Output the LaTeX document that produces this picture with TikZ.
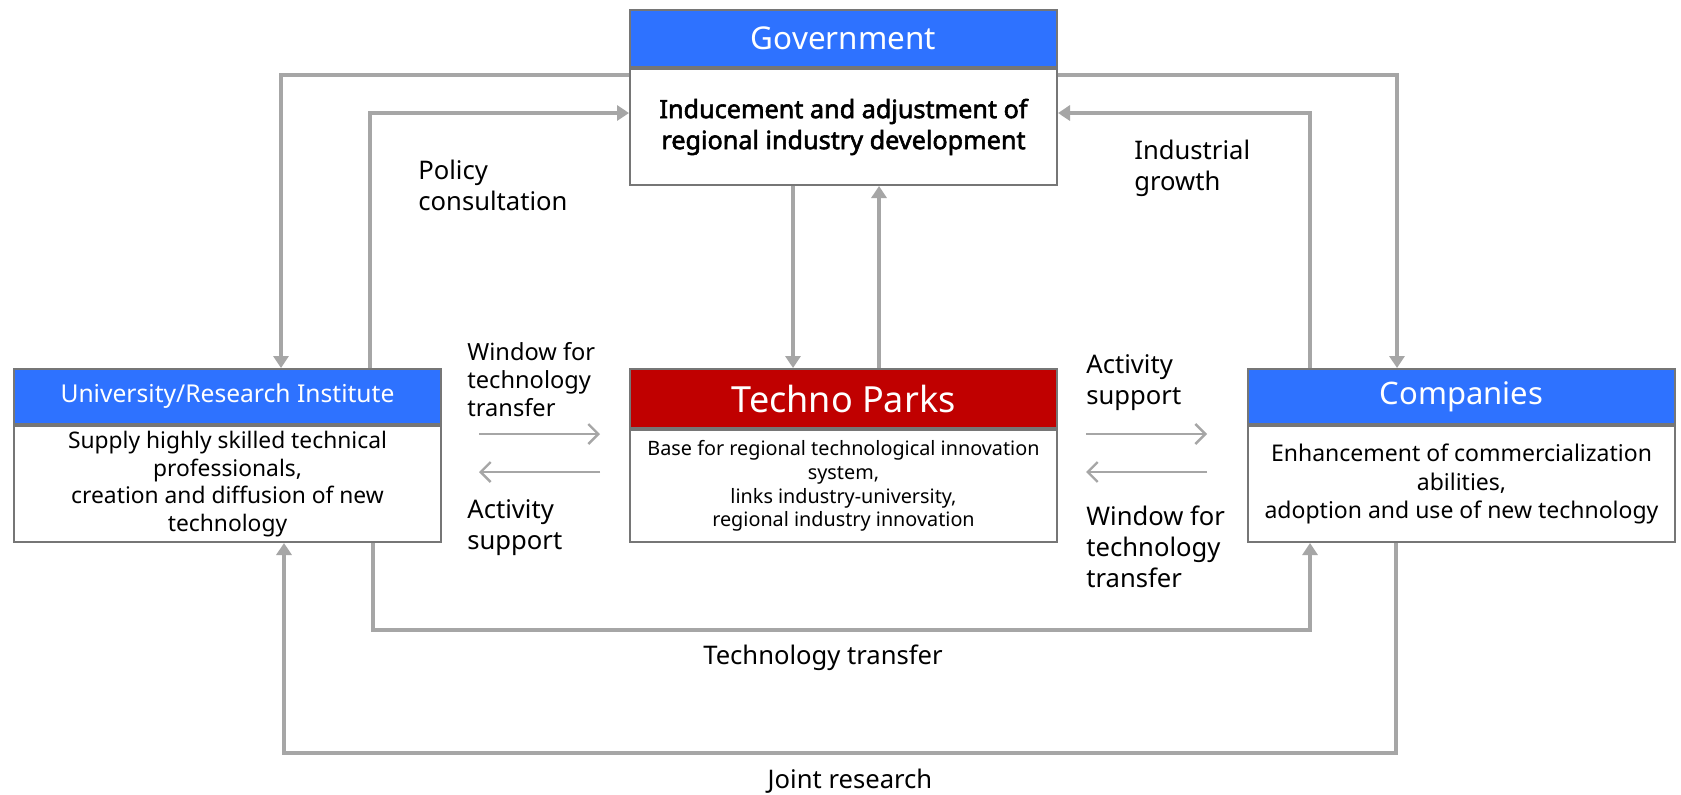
\documentclass[tikz,border=0pt]{standalone}
\usepackage{fontspec}
\setmainfont{Noto Sans}[AutoFakeBold=2.2]
\usepackage{tikz}
\usetikzlibrary{arrows.meta}

\definecolor{headblue}{RGB}{46,114,255}
\definecolor{headred}{RGB}{192,0,0}
\definecolor{boxgray}{RGB}{118,118,118}
\definecolor{arrgray}{RGB}{166,166,166}

\tikzset{
  head/.style={draw=boxgray,line width=1pt,fill=headblue,text=white,
    minimum width=213.5pt,inner sep=0pt,anchor=north west},
  body/.style={draw=boxgray,line width=1pt,fill=white,align=center,
    minimum width=213.5pt,inner sep=0pt,anchor=north west},
  flow/.style={draw=arrgray,line width=2pt,-{Triangle[length=6pt,width=7.5pt]}},
  thinflow/.style={draw=arrgray,line width=1.2pt,-{Straight Barb[length=5pt,width=10pt]}},
  lbl/.style={align=left,anchor=west,inner sep=0pt,font=\fontsize{12.8}{15.5}\selectfont},
}

\begin{document}
\begin{tikzpicture}[x=0.5pt,y=-0.5pt]
    \useasboundingbox[fill=white] (0,0) rectangle (1681,794);
    % boxes
    \node[head,minimum height=28.5pt,font=\fontsize{15.7}{18}\selectfont] (govhead) at (629,9) {Government};
    \node[body,minimum height=58pt,font=\bfseries\fontsize{12.6}{15.5}\selectfont] (govbody) at (govhead.south west)
        {Inducement and adjustment of\\regional industry development};
    \node[head,minimum height=27.5pt,font=\fontsize{12.3}{14}\selectfont] (unihead) at (13,368) {University/Research Institute};
    \node[body,minimum height=58pt,font=\fontsize{11.4}{13.8}\selectfont] (unibody) at (unihead.south west)
        {Supply highly skilled technical\\professionals,\\creation and diffusion of new\\technology};
    \node[head,fill=headred,minimum height=29.5pt,font=\fontsize{18}{21}\selectfont] (techhead) at (629,368) {Techno Parks};
    \node[body,minimum height=56pt,font=\fontsize{9.9}{11.8}\selectfont] (techbody) at (techhead.south west)
        {Base for regional technological innovation\\system,\\links industry-university,\\regional industry innovation};
    \node[head,minimum height=27.5pt,font=\fontsize{15.5}{18}\selectfont] (comphead) at (1247,368) {Companies};
    \node[body,minimum height=58pt,font=\fontsize{11.5}{14.2}\selectfont] (compbody) at (comphead.south west)
        {Enhancement of commercialization\\abilities,\\adoption and use of new technology};
    % bends
    \coordinate (govuni) at (281,75);
    \coordinate (unigov) at (370,113);
    \coordinate (govtech) at (793,0);
    \coordinate (techgov) at (879,0);
    \coordinate (govcomp) at (1397,75);
    \coordinate (compgov) at (1310,113);
    \coordinate (ttleft) at (373,630);
    \coordinate (ttright) at (1310,630);
    \coordinate (jrright) at (1396,753);
    \coordinate (jrleft) at (284,753);
    % thick connectors
    \draw[flow] (govuni -| govbody.west) -- (govuni) -- (govuni |- unihead.north);
    \draw[flow] (unigov |- unihead.north) -- (unigov) -- (unigov -| govbody.west);
    \draw[flow] (govtech |- govbody.south) -- (govtech |- techhead.north);
    \draw[flow] (techgov |- techhead.north) -- (techgov |- govbody.south);
    \draw[flow] (govcomp -| govbody.east) -- (govcomp) -- (govcomp |- comphead.north);
    \draw[flow] (compgov |- comphead.north) -- (compgov) -- (compgov -| govbody.east);
    \draw[flow] (ttleft |- unibody.south) -- (ttleft) -- (ttright) -- (ttright |- compbody.south);
    \draw[flow] (jrright |- compbody.south) -- (jrright) -- (jrleft) -- (jrleft |- unibody.south);
    % thin arrows
    \coordinate (la) at (479,434);
    \coordinate (lb) at (600,434);
    \coordinate (lc) at (479,472);
    \coordinate (ld) at (600,472);
    \coordinate (ra) at (1086,434);
    \coordinate (rb) at (1207,434);
    \coordinate (rc) at (1086,472);
    \coordinate (rd) at (1207,472);
    \draw[thinflow] (la) -- (lb);
    \draw[thinflow] (ld) -- (lc);
    \draw[thinflow] (ra) -- (rb);
    \draw[thinflow] (rd) -- (rc);
    % labels
    \node[lbl] (policy) at (418,185) {Policy\\consultation};
    \node[lbl] (growth) at (1134,168) {Industrial\\growth};
    \node[lbl,font=\fontsize{11.8}{14}\selectfont] (winleft) at (467,380) {Window for\\technology\\transfer};
    \node[lbl] (actleft) at (467,528) {Activity\\support};
    \node[lbl] (actright) at (1086,383) {Activity\\support};
    \node[lbl] (winright) at (1086,547) {Window for\\technology\\transfer};
    \node[lbl,anchor=center] (techtrans) at (823,658) {Technology transfer};
    \node[lbl,anchor=center] (joint) at (850,781) {Joint research};
\end{tikzpicture}
\end{document}
